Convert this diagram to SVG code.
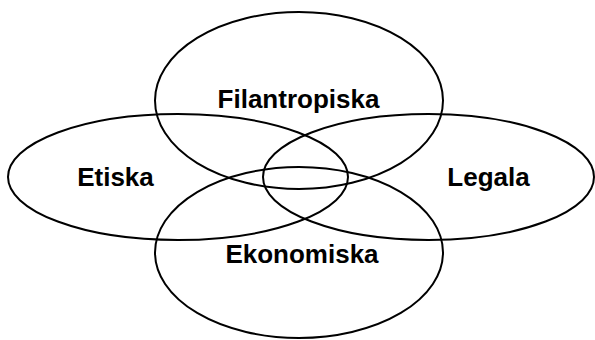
<svg xmlns="http://www.w3.org/2000/svg" width="595" height="340" viewBox="0 0 595 340">
<style>
.e{fill:none;stroke:#000;stroke-width:2}
.t{font-family:"Liberation Sans",Arial,sans-serif;font-weight:bold;font-size:26px;text-anchor:middle;fill:#000}
</style>
<rect width="595" height="340" fill="#fff"/>
<g id="filantropiska"><ellipse class="e" cx="299" cy="100.5" rx="144" ry="88.5"/><text class="t" x="298.5" y="108">Filantropiska</text></g>
<g id="etiska"><ellipse class="e" cx="178" cy="177" rx="170" ry="63"/><text class="t" x="115.5" y="186">Etiska</text></g>
<g id="legala"><ellipse class="e" cx="428.5" cy="177" rx="165.5" ry="63"/><text class="t" x="488.5" y="186">Legala</text></g>
<g id="ekonomiska"><ellipse class="e" cx="299" cy="252.5" rx="144" ry="85.5"/><text class="t" x="302" y="263">Ekonomiska</text></g>
</svg>
